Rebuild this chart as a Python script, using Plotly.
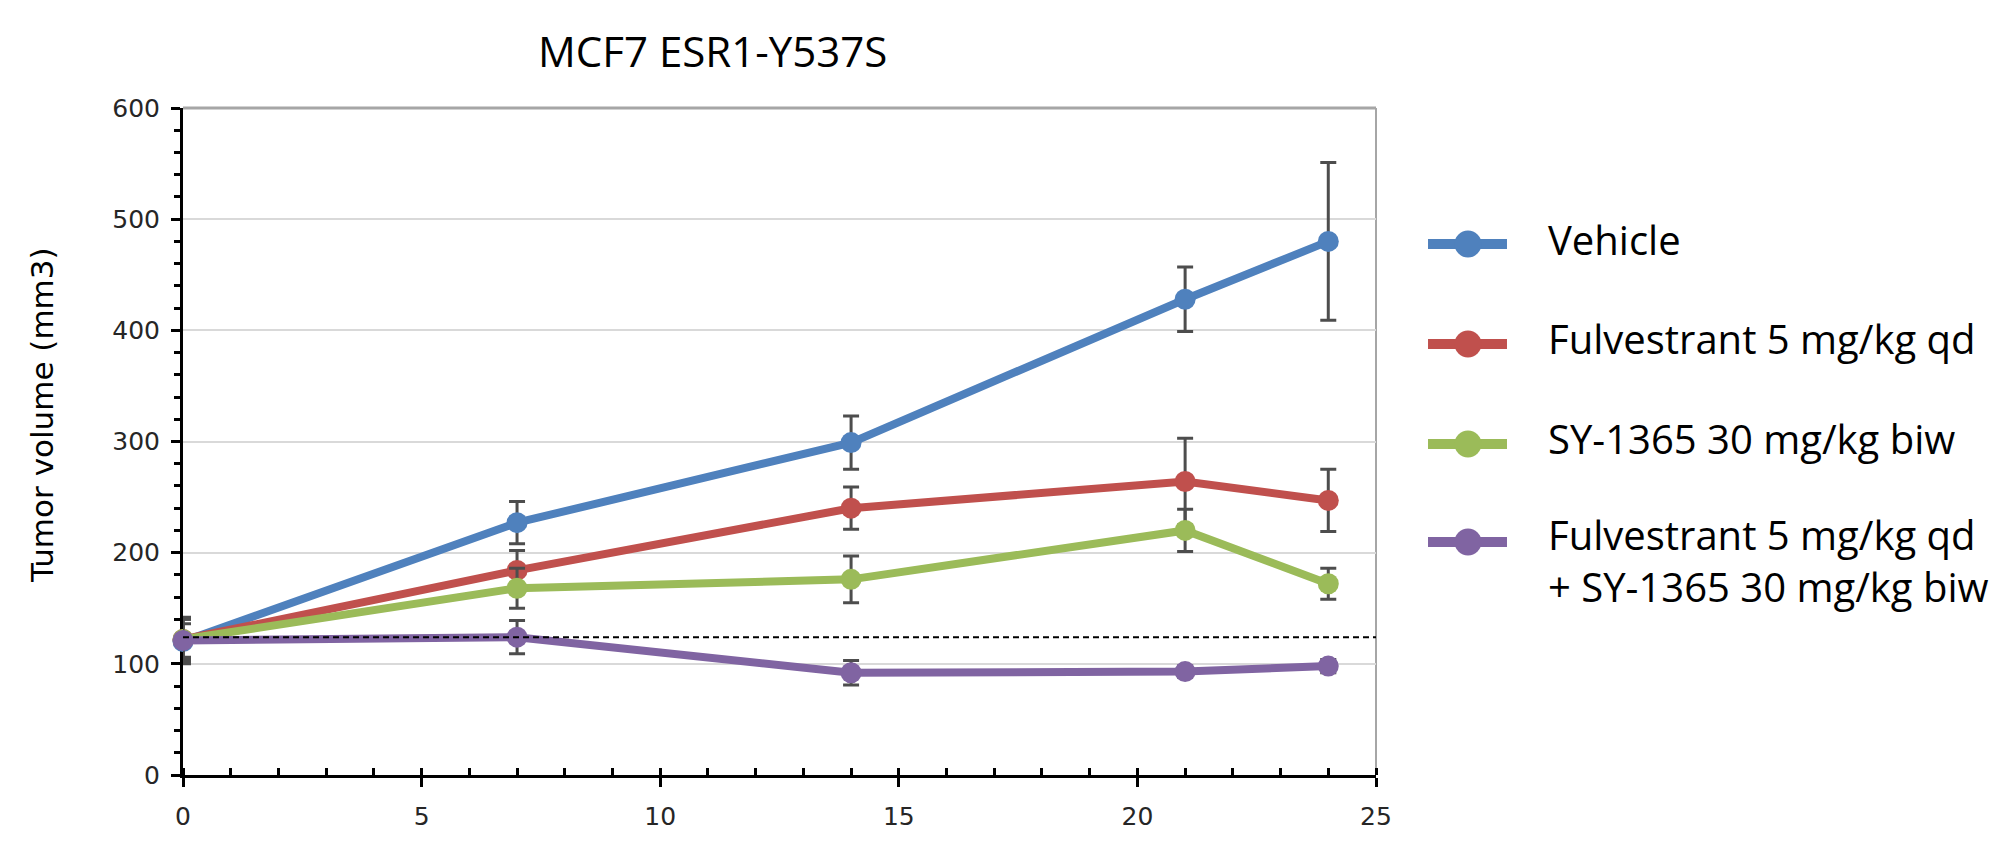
import plotly.graph_objects as go

# ---- data ----
days = [0, 7, 14, 21, 24]

series_names = [
    "Vehicle",
    "Fulvestrant 5 mg/kg qd",
    "SY-1365 30 mg/kg biw",
    "Fulvestrant 5 mg/kg qd<br>+ SY-1365 30 mg/kg biw",
]
vehicle = [120, 227, 299, 428, 480]
vehicle_err = [20, 19, 24, 29, 71]
fulvestrant = [122, 184, 240, 264, 247]
fulvestrant_err = [20, 18, 19, 39, 28]
sy1365 = [122, 168, 176, 220, 172]
sy1365_err = [18, 18, 21, 19, 14]
combo = [121, 124, 92, 93, 98]
combo_err = [15, 15, 11, 5, 6]

baseline = 124  # dashed reference line (starting volume)

x_ticks = [0, 5, 10, 15, 20, 25]
y_ticks = [0, 100, 200, 300, 400, 500, 600]

colors = ["#4F81BD", "#C0504D", "#9BBB59", "#8064A2"]
values = [vehicle, fulvestrant, sy1365, combo]
errors = [vehicle_err, fulvestrant_err, sy1365_err, combo_err]

W, H = 2001, 861
ML, MR, MT, MB = 175, 633, 100, 94
PW, PH = W - ML - MR, H - MT - MB

fig = go.Figure()
for name, y, e, c in zip(series_names, values, errors, colors):
    fig.add_trace(go.Scatter(
        x=days, y=y, name=name.replace("<br>", " "),
        mode="lines+markers",
        line=dict(color=c, width=8),
        marker=dict(color=c, size=21),
        error_y=dict(type="data", array=e, visible=True,
                     color="#4D4D4D", thickness=3, width=8),
        cliponaxis=False, showlegend=False,
    ))

tick_font = dict(family="DejaVu Sans", size=25, color="#262626")

fig.update_layout(
    width=W, height=H,
    margin=dict(l=ML, r=MR, t=MT, b=MB, autoexpand=False),
    paper_bgcolor="white", plot_bgcolor="white",
    title=dict(text="MCF7 ESR1-Y537S",
               font=dict(family="Open Sans", size=42, color="black"),
               x=0.444, xref="paper", xanchor="center",
               y=1 - 44.5 / H, yref="container", yanchor="middle"),
    showlegend=False,
    xaxis=dict(
        range=[0, 25], tickvals=x_ticks, ticktext=[str(v) for v in x_ticks],
        showgrid=False, zeroline=False,
        showline=True, linecolor="black", linewidth=3,
        ticks="outside", ticklen=9, tickwidth=3, tickcolor="black",
        minor=dict(dtick=1, ticks="inside", ticklen=7, tickwidth=2.5,
                   tickcolor="black", showgrid=False),
        tickfont=tick_font, ticklabelstandoff=8,
        layer="below traces",
    ),
    yaxis=dict(
        range=[0, 600], tickvals=y_ticks, ticktext=[str(v) for v in y_ticks],
        showgrid=True, gridcolor="#D9D9D9", gridwidth=2,
        zeroline=False,
        showline=True, linecolor="black", linewidth=3,
        ticks="outside", ticklen=9, tickwidth=3, tickcolor="black",
        minor=dict(dtick=20, ticks="outside", ticklen=6, tickwidth=2.5,
                   tickcolor="black", showgrid=False),
        tickfont=tick_font, ticklabelstandoff=6,
        layer="below traces",
    ),
)

# y-axis title
fig.add_annotation(text="Tumor volume (mm3)", textangle=-90,
                   xref="paper", yref="paper", x=-0.1182, y=0.5397,
                   xanchor="center", yanchor="middle", showarrow=False,
                   font=dict(family="DejaVu Sans", size=31, color="black"))

# plot-area border (top and right, grey)
fig.add_shape(type="line", xref="x domain", yref="y domain",
              x0=0, x1=1, y0=1, y1=1, line=dict(color="#A6A6A6", width=3),
              layer="below")
fig.add_shape(type="line", xref="x domain", yref="y domain",
              x0=1, x1=1, y0=0, y1=1, line=dict(color="#A6A6A6", width=2),
              layer="below")
# dashed baseline
fig.add_shape(type="line", xref="x", yref="y",
              x0=0, x1=25, y0=baseline, y1=baseline,
              line=dict(color="black", width=2, dash="6px,4px"),
              layer="above")

# ---- legend (drawn to match the reference's large symbols) ----
leg_line_x0, leg_line_x1, leg_marker_x, leg_text_x = 1.0436, 1.1098, 1.0771, 1.1425
leg_rows = [0.7961, 0.6462, 0.4963, 0.3493]
leg_text_shift = [5, 5, 5, -18]
leg_font = dict(family="Open Sans", size=40, color="black")
for name, c, ry, ys in zip(series_names, colors, leg_rows, leg_text_shift):
    fig.add_shape(type="line", xref="paper", yref="paper",
                  x0=leg_line_x0, x1=leg_line_x1, y0=ry, y1=ry,
                  line=dict(color=c, width=10))
    fig.add_shape(type="circle", xref="paper", yref="paper",
                  xsizemode="pixel", ysizemode="pixel",
                  xanchor=leg_marker_x, yanchor=ry,
                  x0=-13.5, x1=13.5, y0=-13.5, y1=13.5,
                  fillcolor=c, line=dict(width=0))
    fig.add_annotation(text=name, xref="paper", yref="paper",
                       x=leg_text_x, y=ry, yshift=ys,
                       xanchor="left", yanchor="middle", align="left",
                       showarrow=False, font=leg_font)

fig.write_html("out.html")
